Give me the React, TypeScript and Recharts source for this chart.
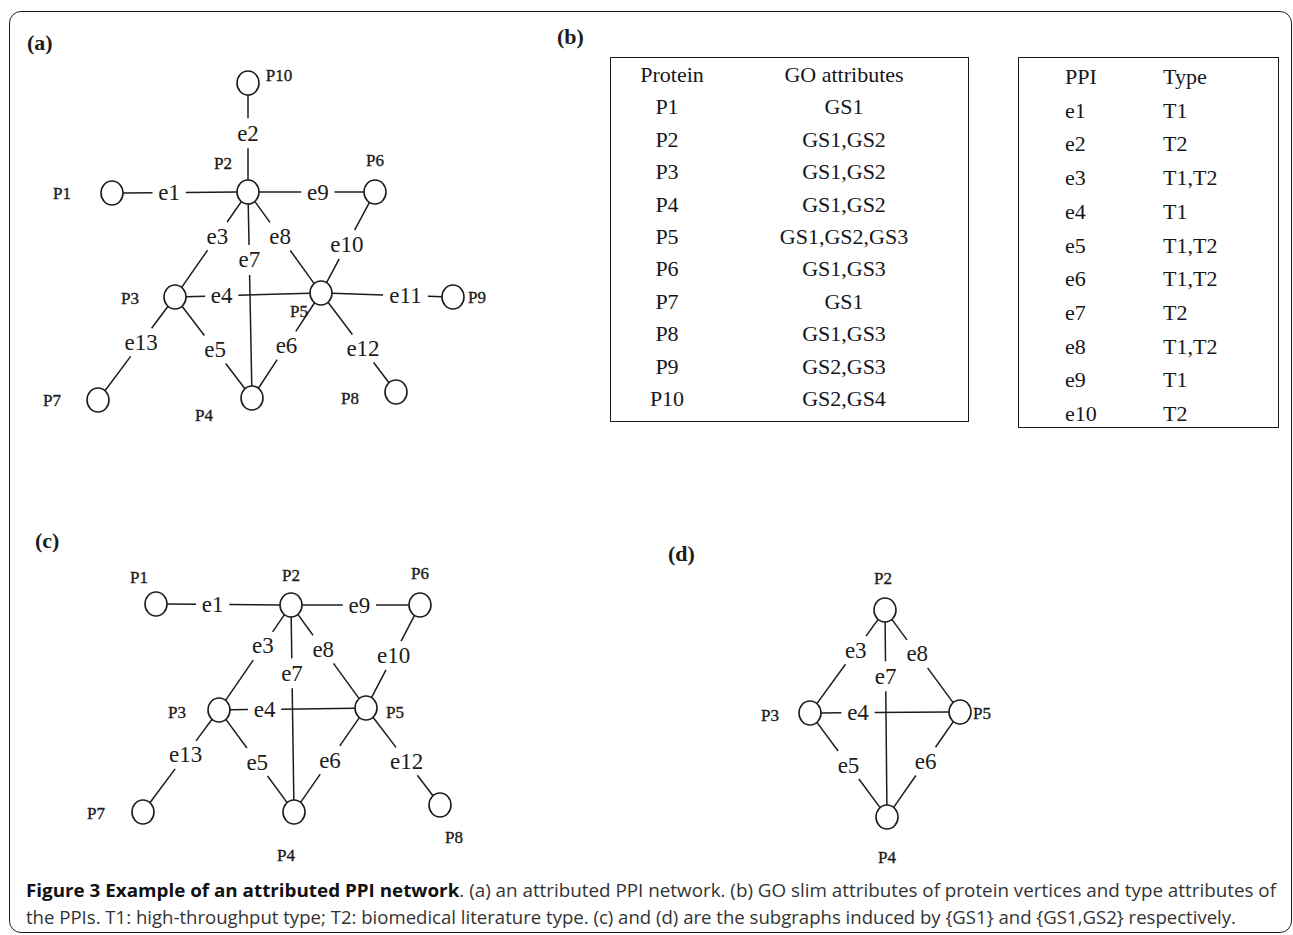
import { ReferenceLine, Scatter, ScatterChart, XAxis, YAxis } from "recharts"

const W = 1293
const H = 935

type Node = { id: string; x: number; y: number; lx: number; ly: number }
type Edge = [string, string, string, number] // label, from, to, label position along edge

/* ---------- (a) attributed PPI network ---------- */
const nodesA: Node[] = [
  { id: "P1", x: 112, y: 193, lx: 62, ly: 193 },
  { id: "P2", x: 248, y: 192, lx: 223, ly: 163 },
  { id: "P3", x: 175, y: 297, lx: 130, ly: 298 },
  { id: "P4", x: 252, y: 398, lx: 204, ly: 415 },
  { id: "P5", x: 321, y: 293, lx: 299, ly: 311 },
  { id: "P6", x: 375, y: 192, lx: 375, ly: 160 },
  { id: "P7", x: 98, y: 400, lx: 52, ly: 400 },
  { id: "P8", x: 396, y: 392, lx: 350, ly: 398 },
  { id: "P9", x: 453, y: 297, lx: 477, ly: 297 },
  { id: "P10", x: 248, y: 83, lx: 279, ly: 75 },
]
const edgesA: Edge[] = [
  ["e1", "P1", "P2", 0.42],
  ["e2", "P10", "P2", 0.46],
  ["e3", "P2", "P3", 0.42],
  ["e4", "P3", "P5", 0.32],
  ["e5", "P3", "P4", 0.52],
  ["e6", "P5", "P4", 0.5],
  ["e7", "P2", "P4", 0.33],
  ["e8", "P2", "P5", 0.44],
  ["e9", "P2", "P6", 0.55],
  ["e10", "P6", "P5", 0.52],
  ["e11", "P5", "P9", 0.64],
  ["e12", "P5", "P8", 0.56],
  ["e13", "P3", "P7", 0.44],
]

/* ---------- (c) subgraph induced by {GS1} ---------- */
const nodesC: Node[] = [
  { id: "P1", x: 156, y: 604, lx: 139, ly: 577 },
  { id: "P2", x: 291, y: 605, lx: 291, ly: 575 },
  { id: "P6", x: 420, y: 605, lx: 420, ly: 573 },
  { id: "P3", x: 219, y: 710, lx: 177, ly: 712 },
  { id: "P5", x: 366, y: 708, lx: 395, ly: 712 },
  { id: "P7", x: 143, y: 812, lx: 96, ly: 813 },
  { id: "P4", x: 294, y: 812, lx: 286, ly: 855 },
  { id: "P8", x: 440, y: 805, lx: 454, ly: 837 },
]
const edgesC: Edge[] = [
  ["e1", "P1", "P2", 0.42],
  ["e9", "P2", "P6", 0.53],
  ["e10", "P6", "P5", 0.49],
  ["e3", "P2", "P3", 0.39],
  ["e8", "P2", "P5", 0.43],
  ["e7", "P2", "P4", 0.33],
  ["e4", "P3", "P5", 0.31],
  ["e13", "P3", "P7", 0.44],
  ["e5", "P3", "P4", 0.51],
  ["e6", "P5", "P4", 0.5],
  ["e12", "P5", "P8", 0.55],
]

/* ---------- (d) subgraph induced by {GS1,GS2} ---------- */
const nodesD: Node[] = [
  { id: "P2", x: 885, y: 610, lx: 883, ly: 578 },
  { id: "P3", x: 810, y: 713, lx: 770, ly: 715 },
  { id: "P5", x: 960, y: 712, lx: 982, ly: 713 },
  { id: "P4", x: 887, y: 817, lx: 887, ly: 857 },
]
const edgesD: Edge[] = [
  ["e3", "P2", "P3", 0.39],
  ["e8", "P2", "P5", 0.43],
  ["e7", "P2", "P4", 0.32],
  ["e4", "P3", "P5", 0.32],
  ["e5", "P3", "P4", 0.5],
  ["e6", "P5", "P4", 0.47],
]

/* ---------- (b) attribute tables ---------- */
const proteins = ["P1", "P2", "P3", "P4", "P5", "P6", "P7", "P8", "P9", "P10"]
const goAttributes = ["GS1", "GS1,GS2", "GS1,GS2", "GS1,GS2", "GS1,GS2,GS3", "GS1,GS3", "GS1", "GS1,GS3", "GS2,GS3", "GS2,GS4"]
const ppis = ["e1", "e2", "e3", "e4", "e5", "e6", "e7", "e8", "e9", "e10"]
const ppiTypes = ["T1", "T2", "T1,T2", "T1", "T1,T2", "T1,T2", "T2", "T1,T2", "T1", "T2"]

const INK = "#1c1c1c"
const SERIF = "'Liberation Serif', 'Times New Roman', serif"
const RX = 11
const RY = 12

// split every edge around its label and trim it at the node rims
function layout(nodes: Node[], edges: Edge[]) {
  const pos: Record<string, Node> = {}
  nodes.forEach((n) => (pos[n.id] = n))
  const segments: { x1: number; y1: number; x2: number; y2: number }[] = []
  const labels: { x: number; y: number; text: string }[] = []
  edges.forEach(([text, a, b, t]) => {
    const A = pos[a]
    const B = pos[b]
    const dx = B.x - A.x
    const dy = B.y - A.y
    const len = Math.hypot(dx, dy)
    const ux = dx / len
    const uy = dy / len
    const rim = 1 / Math.hypot(ux / RX, uy / RY)
    const mx = A.x + dx * t
    const my = A.y + dy * t
    const hw = text.length * 5.8
    const hh = 10
    const gap =
      Math.min(Math.abs(ux) > 1e-6 ? hw / Math.abs(ux) : Infinity, Math.abs(uy) > 1e-6 ? hh / Math.abs(uy) : Infinity) + 5
    segments.push({ x1: A.x + ux * rim, y1: A.y + uy * rim, x2: mx - ux * gap, y2: my - uy * gap })
    segments.push({ x1: mx + ux * gap, y1: my + uy * gap, x2: B.x - ux * rim, y2: B.y - uy * rim })
    labels.push({ x: mx, y: my, text })
  })
  return { segments, labels }
}

const panels = [layout(nodesA, edgesA), layout(nodesC, edgesC), layout(nodesD, edgesD)]
const allNodes = [...nodesA, ...nodesC, ...nodesD]
const allSegments = panels.flatMap((p) => p.segments)
const edgeLabels = panels.flatMap((p) => p.labels)
const nodeLabels = allNodes.map((n) => ({ x: n.lx, y: n.ly, text: n.id }))

function NodeShape(props: any) {
  const { cx, cy } = props
  return <ellipse cx={cx} cy={cy} rx={RX} ry={RY} fill="#fff" stroke={INK} strokeWidth={1.6} />
}

function EdgeLabelShape(props: any) {
  const { cx, cy, payload } = props
  return (
    <text x={cx} y={cy} textAnchor="middle" dominantBaseline="central" fontSize={23} fontFamily={SERIF} fill={INK}>
      {payload.text}
    </text>
  )
}

function NodeLabelShape(props: any) {
  const { cx, cy, payload } = props
  return (
    <text
      x={cx}
      y={cy}
      textAnchor="middle"
      dominantBaseline="central"
      fontSize={17}
      fontFamily={SERIF}
      fill={INK}
      stroke={INK}
      strokeWidth={0.35}
    >
      {payload.text}
    </text>
  )
}

const cellText: React.CSSProperties = {
  position: "absolute",
  fontFamily: SERIF,
  fontSize: 22,
  color: "#161620",
  whiteSpace: "nowrap",
  lineHeight: 1,
}

function AttributeTables() {
  const row1 = 32.4
  const row2 = 33.7
  return (
    <>
      <div
        style={{
          position: "absolute",
          left: 610,
          top: 57,
          width: 359,
          height: 365,
          border: `1.5px solid ${INK}`,
          boxSizing: "border-box",
        }}
      />
      {["Protein", ...proteins].map((p, i) => (
        <span key={"p" + i} style={{ ...cellText, left: i === 0 ? 672 : 667, top: 75 + i * row1, transform: "translate(-50%,-50%)" }}>
          {p}
        </span>
      ))}
      {["GO attributes", ...goAttributes].map((g, i) => (
        <span key={"g" + i} style={{ ...cellText, left: 844, top: 75 + i * row1, transform: "translate(-50%,-50%)" }}>
          {g}
        </span>
      ))}
      <div
        style={{
          position: "absolute",
          left: 1018,
          top: 57,
          width: 261,
          height: 371,
          border: `1.5px solid ${INK}`,
          boxSizing: "border-box",
        }}
      />
      {["PPI", ...ppis].map((e, i) => (
        <span key={"e" + i} style={{ ...cellText, left: 1065, top: 77 + i * row2, transform: "translateY(-50%)" }}>
          {e}
        </span>
      ))}
      {["Type", ...ppiTypes].map((t, i) => (
        <span key={"t" + i} style={{ ...cellText, left: 1163, top: 77 + i * row2, transform: "translateY(-50%)" }}>
          {t}
        </span>
      ))}
    </>
  )
}

function Annotations() {
  const panelLabel = { fontFamily: SERIF, fontWeight: 700, fontSize: 22, fill: INK }
  return (
    <svg width={W} height={H} style={{ position: "absolute", left: 0, top: 0, pointerEvents: "none" }}>
      <text x={27} y={50} {...panelLabel}>(a)</text>
      <text x={557} y={44} {...panelLabel}>(b)</text>
      <text x={35} y={548} {...panelLabel}>(c)</text>
      <text x={668} y={561} {...panelLabel}>(d)</text>
      <text x={26} y={897} fontFamily="'Open Sans', sans-serif" fontSize={17.5} fill="#333" textLength={1250} lengthAdjust="spacingAndGlyphs">
        <tspan fontWeight={700} fill="#111">Figure 3 Example of an attributed PPI network</tspan>
        . (a) an attributed PPI network. (b) GO slim attributes of protein vertices and type attributes of
      </text>
      <text x={26} y={924} fontFamily="'Open Sans', sans-serif" fontSize={17.5} fill="#333" textLength={1210} lengthAdjust="spacingAndGlyphs">
        the PPIs. T1: high-throughput type; T2: biomedical literature type. (c) and (d) are the subgraphs induced by {"{GS1}"} and {"{GS1,GS2}"} respectively.
      </text>
    </svg>
  )
}

export default function App() {
  return (
    <div style={{ position: "absolute", left: 0, top: 0, width: W, height: H, background: "#fff", overflow: "hidden" }}>
      <div
        style={{
          position: "absolute",
          left: 9,
          top: 11,
          width: 1283,
          height: 922,
          border: `1.5px solid ${INK}`,
          borderRadius: 12,
          boxSizing: "border-box",
        }}
      />
      <div style={{ position: "absolute", left: 0, top: 0 }}>
        <ScatterChart width={W} height={H} margin={{ top: 0, right: 0, bottom: 0, left: 0 }}>
          <XAxis type="number" dataKey="x" domain={[0, W]} hide allowDataOverflow />
          <YAxis type="number" dataKey="y" domain={[0, H]} reversed hide allowDataOverflow />
          {allSegments.map((s, i) => (
            <ReferenceLine
              key={i}
              segment={[
                { x: s.x1, y: s.y1 },
                { x: s.x2, y: s.y2 },
              ]}
              stroke={INK}
              strokeWidth={1.5}
              ifOverflow="visible"
            />
          ))}
          <Scatter data={allNodes} shape={NodeShape} isAnimationActive={false} />
          <Scatter data={edgeLabels} shape={EdgeLabelShape} isAnimationActive={false} />
          <Scatter data={nodeLabels} shape={NodeLabelShape} isAnimationActive={false} />
        </ScatterChart>
      </div>
      <AttributeTables />
      <Annotations />
    </div>
  )
}
